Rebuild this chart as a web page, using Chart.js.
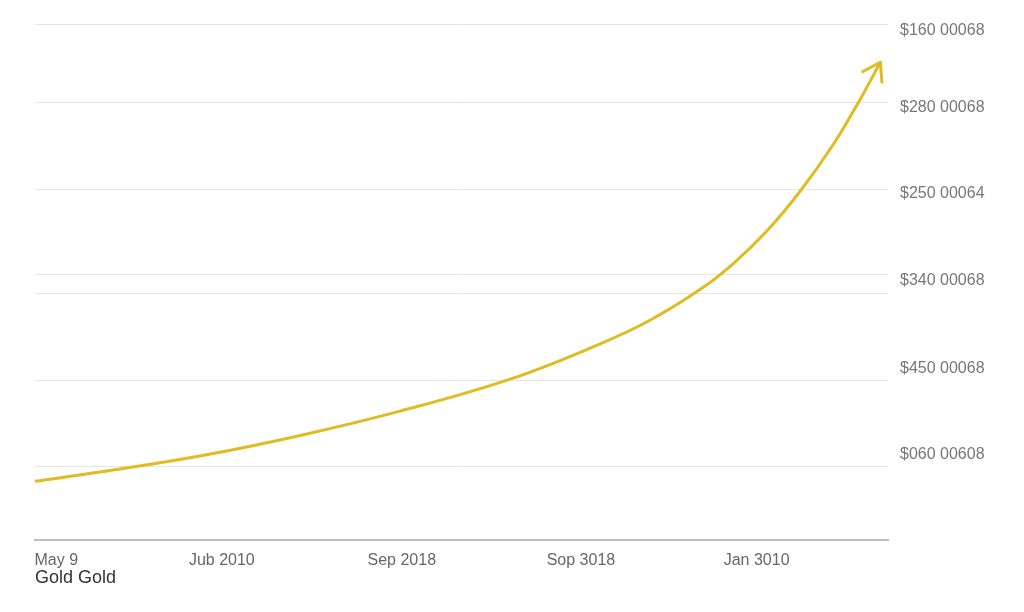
<!DOCTYPE html>
<html>
<head>
<meta charset="utf-8">
<script src="https://cdn.jsdelivr.net/npm/chart.js@4/dist/chart.umd.min.js"></script>
<style>
  html, body { margin: 0; padding: 0; background: #fff; }
  #wrap { width: 1024px; height: 612px; }
</style>
</head>
<body>
<div id="wrap"><canvas id="chart"></canvas></div>
<script>
// months since start, and an index of gold value (0 = axis, 100 = top grid line)
const months = [0, 7.6, 19.3, 31.1, 42.8, 55.7, 66.2, 72.1, 78.0, 81.8, 85.8, 89.7, 93.6, 96.7, 99.1];
const goldValues = [11.4, 13.2, 16.3, 20.3, 25.0, 31.2, 38.0, 42.6, 48.6, 53.5, 59.9, 67.6, 76.7, 85.3, 92.6];

const xTickValues = [2.5, 21.9, 43.0, 64.0, 84.6];
const xTickLabels = ["May 9", "Jub 2010", "Sep 2018", "Sop 3018", "Jan 3010"];

const gridValues = [100, 84.7, 68.0, 51.4, 47.7, 31.0, 14.3];
const yTickValues = [98.8, 83.9, 67.1, 50.2, 33.3, 16.5];
const yTickLabels = ["$160 00068", "$280 00068", "$250 00064", "$340 00068", "$450 00068", "$060 00608"];

const GOLD = "rgb(222, 188, 34)";
const FONT = "'Liberation Sans', Arial, sans-serif";

const arrowHead = {
    id: "arrowHead",
    afterDatasetsDraw(chart) {
        const pts = chart.getDatasetMeta(0).data;
        const tip = pts[pts.length - 1];
        const prev = pts[pts.length - 2];
        const fromX = Number.isFinite(tip.cp1x) ? tip.cp1x : prev.x;
        const fromY = Number.isFinite(tip.cp1y) ? tip.cp1y : prev.y;
        const back = Math.atan2(fromY - tip.y, fromX - tip.x);
        const len = 20, spread = 0.58;
        const { ctx } = chart;
        ctx.save();
        ctx.strokeStyle = GOLD;
        ctx.lineWidth = 3;
        ctx.lineCap = "round";
        ctx.lineJoin = "round";
        ctx.beginPath();
        ctx.moveTo(tip.x + len * Math.cos(back - spread), tip.y + len * Math.sin(back - spread));
        ctx.lineTo(tip.x, tip.y);
        ctx.lineTo(tip.x + len * Math.cos(back + spread), tip.y + len * Math.sin(back + spread));
        ctx.stroke();
        ctx.restore();
    }
};

new Chart(document.getElementById("chart"), {
    type: "line",
    data: {
        datasets: [{
            label: "Gold",
            data: months.map((m, i) => ({ x: m, y: goldValues[i] })),
            borderColor: GOLD,
            borderWidth: 3,
            borderCapStyle: "round",
            pointRadius: 0,
            tension: 0.4,
            fill: false
        }]
    },
    options: {
        responsive: true,
        maintainAspectRatio: false,
        animation: false,
        layout: { padding: { left: 35, top: 24, right: 0, bottom: 23 } },
        plugins: {
            legend: { display: false },
            tooltip: { enabled: false },
            title: {
                display: true,
                text: "Gold Gold",
                position: "bottom",
                align: "start",
                color: "#333",
                font: { family: FONT, size: 18, weight: "normal" },
                padding: { top: -14, bottom: 0 }
            }
        },
        scales: {
            x: {
                type: "linear",
                min: 0,
                max: 100,
                afterBuildTicks: s => { s.ticks = xTickValues.map(v => ({ value: v })); },
                grid: { display: false, drawTicks: false },
                border: { display: true, color: "#bdbdbd", width: 2 },
                ticks: {
                    autoSkip: false,
                    maxRotation: 0,
                    padding: 11,
                    color: "#666",
                    font: { family: FONT, size: 16 },
                    callback: v => xTickLabels[xTickValues.indexOf(v)] ?? ""
                }
            },
            y: {
                type: "linear",
                position: "right",
                min: 0,
                max: 100,
                afterBuildTicks: s => {
                    s.ticks = [...gridValues, ...yTickValues].map(v => ({ value: v }));
                },
                afterFit: s => { s.width = 136; },
                grid: {
                    drawTicks: false,
                    lineWidth: 1,
                    color: ctx => gridValues.includes(ctx.tick && ctx.tick.value) ? "#e6e6e6" : "rgba(0,0,0,0)"
                },
                border: { display: false },
                ticks: {
                    autoSkip: false,
                    padding: 12,
                    color: "#777",
                    font: { family: FONT, size: 16 },
                    callback: v => {
                        const i = yTickValues.indexOf(v);
                        return i >= 0 ? yTickLabels[i] : "";
                    }
                }
            }
        }
    },
    plugins: [arrowHead]
});
</script>
</body>
</html>
